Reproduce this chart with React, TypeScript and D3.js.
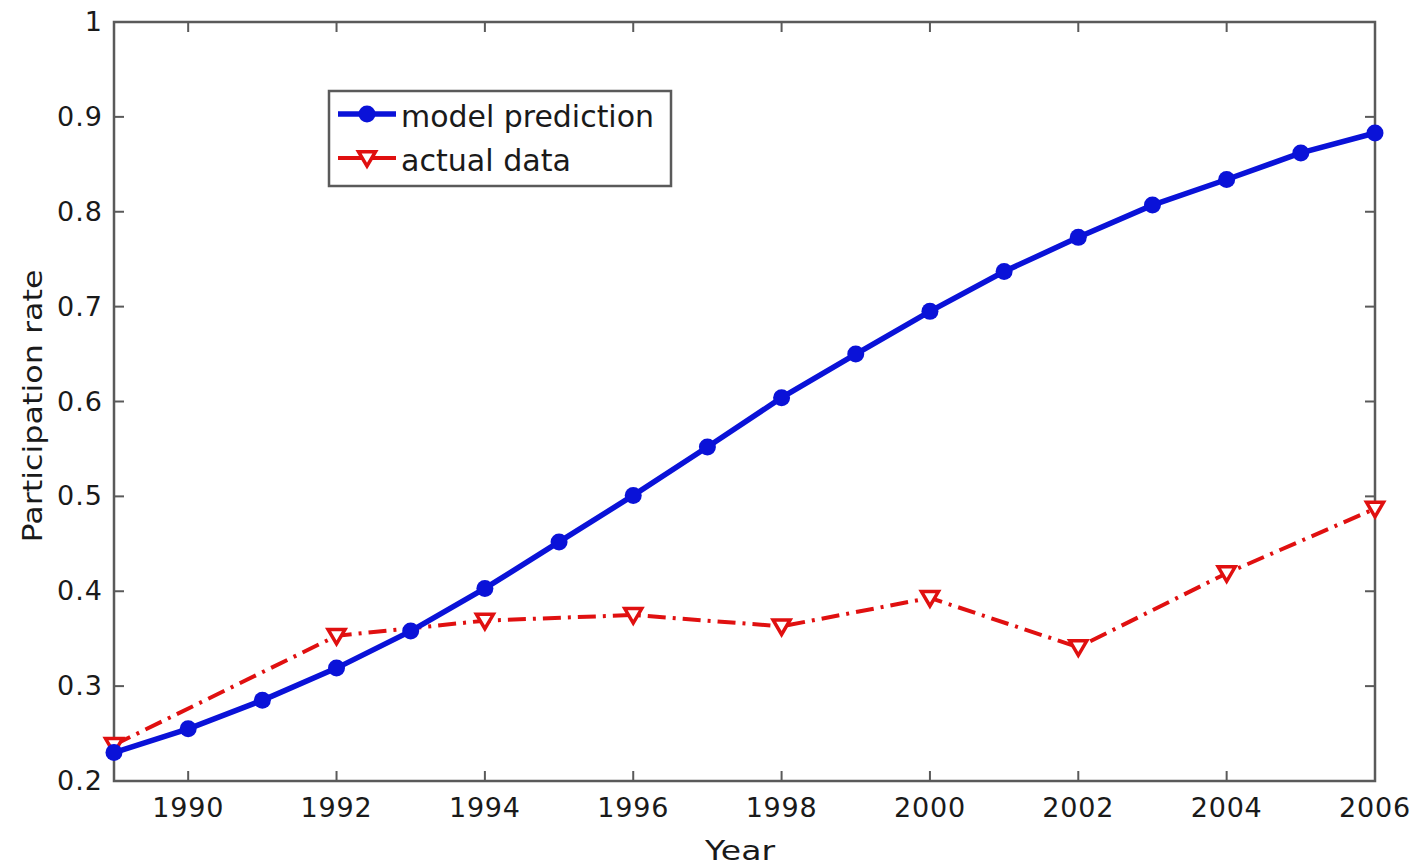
import React from "react";
import * as d3 from "d3";

const years = d3.range(1989, 2007);
const modelPrediction = [0.23, 0.255, 0.285, 0.319, 0.358, 0.403, 0.452, 0.501, 0.552, 0.604, 0.65, 0.695, 0.737, 0.773, 0.807, 0.834, 0.862, 0.883];
const actualYears = [1989, 1992, 1994, 1996, 1998, 2000, 2002, 2004, 2006];
const actualData = [0.238, 0.353, 0.369, 0.375, 0.363, 0.393, 0.341, 0.419, 0.487];
const xTicks = [1990, 1992, 1994, 1996, 1998, 2000, 2002, 2004, 2006];
const yTicks = [0.2, 0.3, 0.4, 0.5, 0.6, 0.7, 0.8, 0.9, 1];

const W = 1416;
const H = 866;
const left = 114;
const right = 1375;
const top = 22;
const bottom = 781;
const font = "DejaVu Sans, sans-serif";
const axisColor = "#5a5a5a";
const textColor = "#1a1a1a";
const blue = "#0a12d8";
const red = "#e01010";

export default function App() {
  const x = d3.scaleLinear().domain([1989, 2006]).range([left, right]);
  const y = d3.scaleLinear().domain([0.2, 1]).range([bottom, top]);

  const modelLine = d3.line<number>().x((_, i) => x(years[i])).y((d) => y(d))(modelPrediction) || "";
  const actualLine = d3.line<number>().x((_, i) => x(actualYears[i])).y((d) => y(d))(actualData) || "";

  const tri = (cx: number, cy: number, s: number) =>
    `M${cx - s},${cy - s * 0.75}L${cx + s},${cy - s * 0.75}L${cx},${cy + s * 0.95}Z`;

  const tick = 10;

  return (
    <svg width={W} height={H} style={{ position: "absolute", left: 0, top: 0, background: "#fff" }}>
      <rect x={0} y={0} width={W} height={H} fill="#fff" />
      {/* x ticks, bottom and top */}
      {xTicks.map((t) => (
        <g key={"x" + t}>
          <line x1={x(t)} x2={x(t)} y1={bottom} y2={bottom - tick} stroke={axisColor} strokeWidth={2} />
          <line x1={x(t)} x2={x(t)} y1={top} y2={top + tick} stroke={axisColor} strokeWidth={2} />
          <text x={x(t)} y={bottom + 36} textAnchor="middle" fontFamily={font} fontSize={27} letterSpacing={0.8} fill={textColor}>
            {t}
          </text>
        </g>
      ))}
      {/* y ticks, left and right */}
      {yTicks.map((t) => (
        <g key={"y" + t}>
          <line x1={left} x2={left + tick} y1={y(t)} y2={y(t)} stroke={axisColor} strokeWidth={2} />
          <line x1={right} x2={right - tick} y1={y(t)} y2={y(t)} stroke={axisColor} strokeWidth={2} />
          <text x={left - 11} y={y(t) + 9} textAnchor="end" fontFamily={font} fontSize={27} letterSpacing={1} fill={textColor}>
            {t === 1 ? "1" : t.toFixed(1)}
          </text>
        </g>
      ))}
      <rect x={left} y={top} width={right - left} height={bottom - top} fill="none" stroke={axisColor} strokeWidth={2.5} />

      {/* actual data: red dash-dot with open triangles */}
      <path d={actualLine} fill="none" stroke={red} strokeWidth={4} strokeDasharray="18,7,3,7" />
      {actualData.map((d, i) => (
        <path key={"a" + i} d={tri(x(actualYears[i]), y(d), 8.5)} fill="#fff" stroke={red} strokeWidth={3.5} />
      ))}

      {/* model prediction: blue solid with filled circles */}
      <path d={modelLine} fill="none" stroke={blue} strokeWidth={5.5} />
      {modelPrediction.map((d, i) => (
        <circle key={"m" + i} cx={x(years[i])} cy={y(d)} r={8.5} fill={blue} />
      ))}

      {/* legend */}
      <g>
        <rect x={329} y={91} width={342} height={95} fill="#fff" stroke={axisColor} strokeWidth={2.5} />
        <line x1={338} x2={396} y1={114} y2={114} stroke={blue} strokeWidth={5.5} />
        <circle cx={367} cy={114} r={8.5} fill={blue} />
        <text x={401} y={127} fontFamily={font} fontSize={30} textLength={253} lengthAdjust="spacingAndGlyphs" fill={textColor}>
          model prediction
        </text>
        <line x1={338} x2={396} y1={158} y2={158} stroke={red} strokeWidth={4} />
        <path d={tri(367, 158, 8.5)} fill="#fff" stroke={red} strokeWidth={3.5} />
        <text x={401} y={171} fontFamily={font} fontSize={30} textLength={170} lengthAdjust="spacingAndGlyphs" fill={textColor}>
          actual data
        </text>
      </g>

      {/* axis titles */}
      <text x={740} y={860} textAnchor="middle" fontFamily={font} fontSize={27} textLength={70} lengthAdjust="spacingAndGlyphs" fill={textColor}>
        Year
      </text>
      <text
        transform={`translate(42,${406}) rotate(-90)`}
        textAnchor="middle"
        fontFamily={font}
        fontSize={27}
        textLength={273}
        lengthAdjust="spacingAndGlyphs"
        fill={textColor}
      >
        Participation rate
      </text>
    </svg>
  );
}
